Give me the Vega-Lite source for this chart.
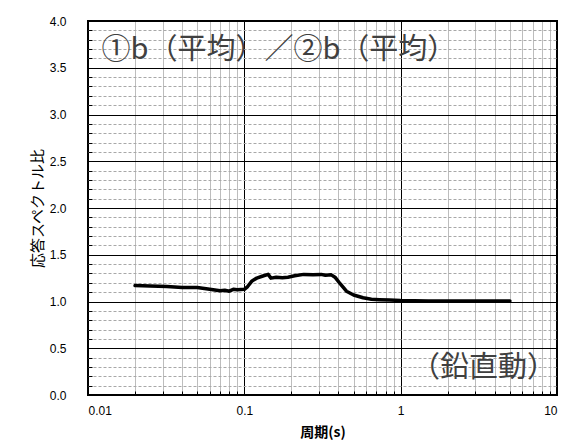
{
  "$schema": "https://vega.github.io/schema/vega-lite/v6.json",
  "width": 469,
  "height": 374,
  "autosize": {"type": "none"},
  "padding": {"left": 88, "top": 21, "right": 5, "bottom": 53},
  "background": "white",
  "config": {
    "view": {"stroke": "black", "strokeWidth": 2},
    "font": "Liberation Sans",
    "axis": {"labelFont": "Liberation Sans", "labelFontSize": 12, "labelColor": "black"}
  },
  "datasets": {
    "curve": [
      {"T": 0.020, "v": 1.17},
      {"T": 0.025, "v": 1.165},
      {"T": 0.032, "v": 1.16},
      {"T": 0.040, "v": 1.15},
      {"T": 0.050, "v": 1.15},
      {"T": 0.060, "v": 1.13},
      {"T": 0.070, "v": 1.115},
      {"T": 0.075, "v": 1.12},
      {"T": 0.080, "v": 1.11},
      {"T": 0.085, "v": 1.13},
      {"T": 0.090, "v": 1.125},
      {"T": 0.100, "v": 1.13},
      {"T": 0.105, "v": 1.16},
      {"T": 0.112, "v": 1.22},
      {"T": 0.120, "v": 1.25},
      {"T": 0.130, "v": 1.27},
      {"T": 0.142, "v": 1.29},
      {"T": 0.148, "v": 1.25},
      {"T": 0.160, "v": 1.26},
      {"T": 0.175, "v": 1.255},
      {"T": 0.190, "v": 1.26},
      {"T": 0.210, "v": 1.275},
      {"T": 0.240, "v": 1.29},
      {"T": 0.275, "v": 1.285},
      {"T": 0.310, "v": 1.29},
      {"T": 0.330, "v": 1.28},
      {"T": 0.360, "v": 1.285},
      {"T": 0.380, "v": 1.26},
      {"T": 0.410, "v": 1.19},
      {"T": 0.450, "v": 1.11},
      {"T": 0.500, "v": 1.07},
      {"T": 0.575, "v": 1.04},
      {"T": 0.650, "v": 1.025},
      {"T": 0.730, "v": 1.02},
      {"T": 0.850, "v": 1.015},
      {"T": 1.000, "v": 1.01},
      {"T": 1.500, "v": 1.005},
      {"T": 2.000, "v": 1.005},
      {"T": 3.000, "v": 1.005},
      {"T": 5.000, "v": 1.005}
    ],
    "title1": [{"T": 0.0122, "v": 3.69, "txt": "①b（平均）／②b（平均）"}],
    "title2": [{"T": 9.85, "v": 0.29, "txt": "（鉛直動）"}]
  },
  "resolve": {"axis": {"x": "independent", "y": "independent"}},
  "layer": [
    {
      "data": {"name": "curve"},
      "mark": {"type": "line", "strokeOpacity": 0},
      "encoding": {
        "x": {
          "field": "T", "type": "quantitative",
          "scale": {"type": "log", "domain": [0.01, 10], "nice": false},
          "axis": {
            "orient": "bottom",
            "values": [0.02,0.03,0.04,0.05,0.06,0.07,0.08,0.09,0.2,0.3,0.4,0.5,0.6,0.7,0.8,0.9,2,3,4,5,6,7,8,9],
            "grid": true, "gridColor": "#bdbdbd", "gridWidth": 1,
            "labels": false, "domain": false, "ticks": true, "tickSize": -4, "tickColor": "black", "tickWidth": 1,
            "title": null
          }
        },
        "y": {
          "field": "v", "type": "quantitative",
          "scale": {"domain": [0, 4], "nice": false, "zero": true},
          "axis": {
            "orient": "left",
            "values": [0.1,0.2,0.3,0.4,0.6,0.7,0.8,0.9,1.1,1.2,1.3,1.4,1.6,1.7,1.8,1.9,2.1,2.2,2.3,2.4,2.6,2.7,2.8,2.9,3.1,3.2,3.3,3.4,3.6,3.7,3.8,3.9],
            "grid": true, "gridColor": "#a8a8a8", "gridDash": [3, 2], "gridWidth": 1,
            "labels": false, "domain": false, "ticks": true, "tickSize": -4, "tickColor": "black", "tickWidth": 1,
            "title": null
          }
        }
      }
    },
    {
      "data": {"name": "curve"},
      "mark": {"type": "line", "color": "black", "strokeWidth": 3.5, "strokeJoin": "round", "strokeCap": "round"},
      "encoding": {
        "x": {
          "field": "T", "type": "quantitative",
          "axis": {
            "orient": "bottom",
            "values": [0.01, 0.1, 1, 10],
            "format": "~g",
            "grid": true, "gridColor": "black", "gridWidth": 1,
            "ticks": false, "domain": false,
            "labelPadding": 10,
            "title": "周期(s)",
            "titleFont": "Noto Sans CJK JP", "titleFontSize": 14, "titleFontWeight": "bold", "titleColor": "black",
            "titlePadding": 9
          }
        },
        "y": {
          "field": "v", "type": "quantitative",
          "axis": {
            "orient": "left",
            "values": [0, 0.5, 1, 1.5, 2, 2.5, 3, 3.5, 4],
            "format": ".1f",
            "grid": true, "gridColor": "black", "gridWidth": 1,
            "ticks": false, "domain": false,
            "labelPadding": 22,
            "title": "応答スペクトル比",
            "titleFont": "Noto Sans CJK JP", "titleFontSize": 15, "titleFontWeight": "normal", "titleColor": "black",
            "titlePadding": 4
          }
        }
      }
    },
    {
      "data": {"name": "title1"},
      "mark": {"type": "text", "font": "Noto Sans CJK JP", "fontSize": 29, "color": "#404040", "baseline": "middle", "align": "left"},
      "encoding": {
        "x": {"field": "T", "type": "quantitative", "axis": null},
        "y": {"field": "v", "type": "quantitative", "axis": null},
        "text": {"field": "txt"}
      }
    },
    {
      "data": {"name": "title2"},
      "mark": {"type": "text", "font": "Noto Sans CJK JP", "fontSize": 29, "color": "#404040", "baseline": "middle", "align": "right"},
      "encoding": {
        "x": {"field": "T", "type": "quantitative", "axis": null},
        "y": {"field": "v", "type": "quantitative", "axis": null},
        "text": {"field": "txt"}
      }
    }
  ]
}
